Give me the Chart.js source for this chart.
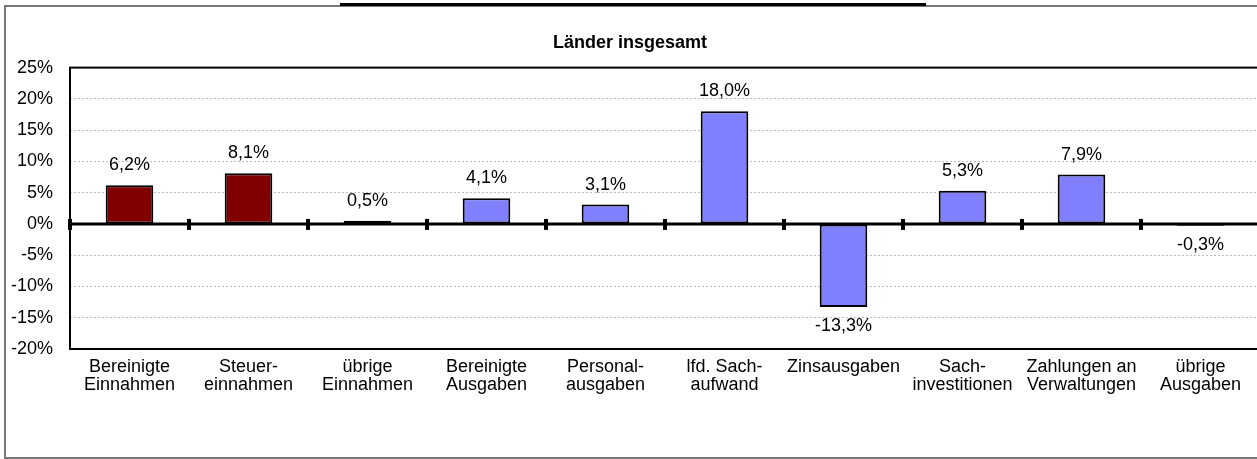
<!DOCTYPE html>
<html>
<head>
<meta charset="utf-8">
<script src="https://cdn.jsdelivr.net/npm/chart.js@4"></script>
<style>
  body { margin: 0; background: #fff; overflow: hidden; }
  #wrap { position: absolute; left: 0; top: 0; width: 1262px; height: 459px; }
</style>
</head>
<body>
<div id="wrap"><canvas id="chart"></canvas></div>
<script>
const categories = [
    ['Bereinigte', 'Einnahmen'], ['Steuer-', 'einnahmen'], ['übrige', 'Einnahmen'],
    ['Bereinigte', 'Ausgaben'], ['Personal-', 'ausgaben'], ['lfd. Sach-', 'aufwand'],
    'Zinsausgaben', ['Sach-', 'investitionen'], ['Zahlungen an', 'Verwaltungen'], ['übrige', 'Ausgaben']
];
const changes = [6.2, 8.1, 0.5, 4.1, 3.1, 18.0, -13.3, 5.3, 7.9, -0.3];
const barColors = ['#800000', '#800000', '#8080ff', '#8080ff', '#8080ff', '#8080ff', '#8080ff', '#8080ff', '#8080ff', '#8080ff'];
const yMin = -20, yMax = 25, yStep = 5;

const font = '"Liberation Sans", Arial, sans-serif';

// frame, zero line with boundary ticks, value labels
const decor = {
    id: 'decor',
    beforeDraw(chart) {
        const ctx = chart.ctx;
        ctx.save();
        ctx.strokeStyle = '#777';
        ctx.lineWidth = 2;
        ctx.strokeRect(5, 6, 1300, 452);
        // remains of the clipped heading above
        ctx.fillStyle = '#000';
        ctx.fillRect(340, 3, 586, 3);
        ctx.restore();
    },
    beforeDatasetsDraw(chart) {
        const {ctx, chartArea: a, scales: {x, y}} = chart;
        ctx.save();
        const y0 = y.getPixelForValue(0);
        ctx.strokeStyle = '#000';
        ctx.lineWidth = 3;
        ctx.beginPath();
        ctx.moveTo(a.left, y0);
        ctx.lineTo(a.right, y0);
        ctx.stroke();

        ctx.fillStyle = '#000';
        for (let i = 0; i <= categories.length; i++) {
            let px;
            if (i === 0) px = a.left;
            else if (i === categories.length) px = a.right;
            else px = (x.getPixelForValue(i - 1) + x.getPixelForValue(i)) / 2;
            ctx.fillRect(px - 2, y0 - 5, 4, 11);
        }
        ctx.restore();
    },
    afterDatasetsDraw(chart) {
        const {ctx, chartArea: a} = chart;
        ctx.save();
        ctx.strokeStyle = '#000';
        ctx.lineWidth = 2;
        ctx.strokeRect(a.left, a.top, a.right - a.left + 10, a.bottom - a.top);

        ctx.fillStyle = '#000';
        ctx.font = '18px ' + font;
        ctx.textAlign = 'center';
        ctx.textBaseline = 'middle';
        chart.getDatasetMeta(0).data.forEach((bar, i) => {
            const v = changes[i];
            const txt = v.toFixed(1).replace('.', ',') + '%';
            const ty = v >= 0 ? bar.y - 20 : bar.y + 19;
            ctx.fillText(txt, bar.x, ty);
        });
        ctx.restore();
    }
};

new Chart(document.getElementById('chart'), {
    type: 'bar',
    data: {
        labels: categories,
        datasets: [{
            data: changes,
            backgroundColor: barColors,
            borderColor: '#000',
            borderWidth: 2,
            borderSkipped: false,
            categoryPercentage: 1,
            barPercentage: 0.4
        }]
    },
    options: {
        responsive: true,
        maintainAspectRatio: false,
        animation: false,
        layout: { padding: { left: 0, right: 2, top: 0, bottom: 0 } },
        plugins: {
            legend: { display: false },
            tooltip: { enabled: false },
            title: {
                display: true,
                text: 'Länder insgesamt',
                color: '#000',
                font: { family: font, size: 18, weight: 'bold' },
                padding: { top: 32, bottom: 14 }
            }
        },
        scales: {
            x: {
                grid: { display: false, drawTicks: false },
                border: { display: false },
                ticks: {
                    color: '#000',
                    font: { family: font, size: 18, lineHeight: 1.0 },
                    padding: 9,
                    maxRotation: 0,
                    autoSkip: false
                },
                afterFit(scale) { scale.height = 110; }
            },
            y: {
                min: yMin,
                max: yMax,
                grid: {
                    drawTicks: false,
                    color: ctx => ctx.tick && ctx.tick.value === 0 ? 'rgba(0,0,0,0)' : '#bdbdbd',
                    lineWidth: 1
                },
                border: { display: false, dash: [2, 2] },
                ticks: {
                    stepSize: yStep,
                    color: '#000',
                    font: { family: font, size: 18 },
                    padding: 17,
                    callback: v => v + '%'
                },
                afterFit(scale) { scale.width = 70; }
            }
        }
    },
    plugins: [decor]
});
</script>
</body>
</html>
